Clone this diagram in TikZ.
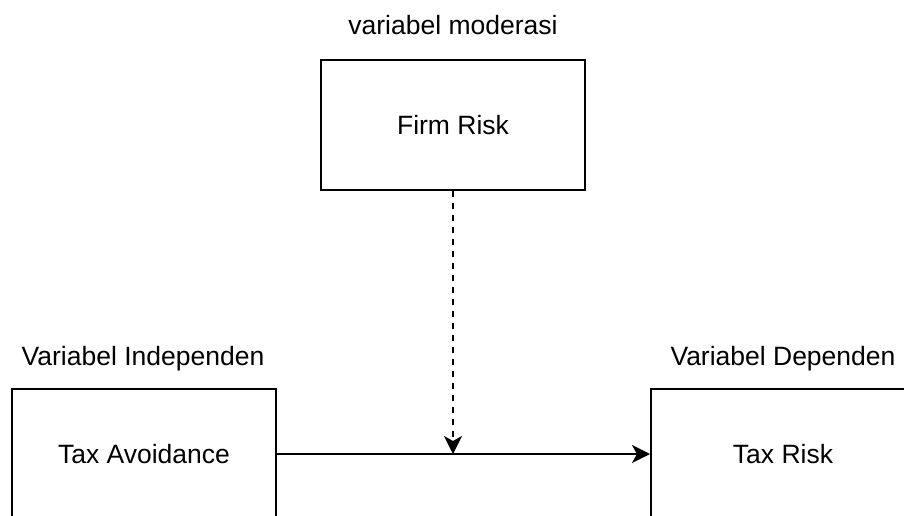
\documentclass[tikz,border=0pt]{standalone}
\usepackage{fontspec}
\setmainfont{Liberation Sans}
\usetikzlibrary{arrows.meta}
\tikzset{
  varbox/.style={draw,line width=2pt,minimum width=264pt,minimum height=130pt,inner sep=0pt},
  varlabel/.style={inner sep=0pt,anchor=base},
}
\begin{document}
\begin{tikzpicture}[x=1pt,y=-1pt,font=\fontsize{26.5}{31}\selectfont]
    \useasboundingbox (0,0) rectangle (904,516);
    \node[varbox] (FR) at (453,125) {Firm Risk};
    \node[varbox] (TA) at (144,454) {Tax Avoidance};
    \node[varbox] (TR) at (783,454) {Tax Risk};
    \node[varlabel] (moderasi)    at (453,35)  {variabel moderasi};
    \node[varlabel] (independen)  at (143,365) {Variabel Independen};
    \node[varlabel] (dependen)    at (783,365) {Variabel Dependen};
    \coordinate (meet) at (FR.south |- TA.east);
    \draw[-{Stealth[length=18pt,width=18pt,inset=5pt]},line width=2pt]
    (TA) edge (TR)
    (FR) edge[dash pattern=on 6pt off 6pt] (meet);
  \end{tikzpicture}
\end{document}
